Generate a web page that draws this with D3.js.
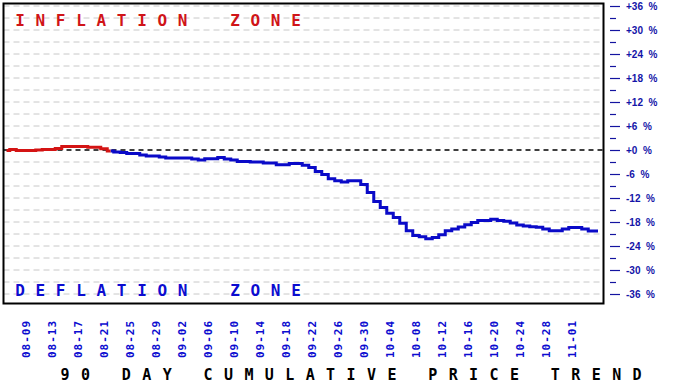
<!DOCTYPE html>
<html><head><meta charset="utf-8">
<script src="https://cdn.jsdelivr.net/npm/d3@7/dist/d3.min.js"></script>
<style>body{margin:0;background:#fff}svg{display:block}</style>
</head><body><svg id="c" width="686" height="386"></svg>
<script>
const dates = [
"08-06","08-07","08-08","08-09","08-10","08-11","08-12","08-13","08-14","08-15",
"08-16","08-17","08-18","08-19","08-20","08-21","08-22","08-23","08-24","08-25",
"08-26","08-27","08-28","08-29","08-30","08-31","09-01","09-02","09-03","09-04",
"09-05","09-06","09-07","09-08","09-09","09-10","09-11","09-12","09-13","09-14",
"09-15","09-16","09-17","09-18","09-19","09-20","09-21","09-22","09-23","09-24",
"09-25","09-26","09-27","09-28","09-29","09-30","10-01","10-02","10-03","10-04",
"10-05","10-06","10-07","10-08","10-09","10-10","10-11","10-12","10-13","10-14",
"10-15","10-16","10-17","10-18","10-19","10-20","10-21","10-22","10-23","10-24",
"10-25","10-26","10-27","10-28","10-29","10-30","10-31","11-01","11-02","11-03",
"11-04","11-05"];
const values = [
-0.1, 0.1, -0.1, -0.1, -0.1, 0.0, 0.1, 0.1, 0.4, 0.9,
0.9, 0.9, 0.9, 0.7, 0.7, 0.3, -0.25, -0.5, -0.6, -0.9,
-0.9, -1.25, -1.5, -1.5, -1.75, -2.0, -2.0, -2.0, -2.0, -2.25,
-2.5, -2.2, -2.2, -1.9, -2.25, -2.5, -2.9, -2.9, -3.0, -3.0,
-3.25, -3.25, -3.7, -3.7, -3.4, -3.4, -3.8, -4.4, -5.4, -6.1,
-7.2, -7.7, -8.0, -7.7, -7.7, -8.6, -10.6, -12.9, -14.4, -15.8,
-16.9, -18.3, -20.2, -21.4, -21.7, -22.2, -21.9, -21.2, -20.2, -19.75,
-19.25, -18.7, -18.1, -17.6, -17.6, -17.3, -17.6, -17.8, -18.25, -18.75,
-19.0, -19.2, -19.3, -19.75, -20.2, -20.2, -19.75, -19.4, -19.4, -19.75,
-20.25, -20.25];
const inflationLastDate = "08-22";
const xTickLabels = ["08-09","08-13","08-17","08-21","08-25","08-29","09-02","09-06","09-10","09-14","09-18","09-22","09-26","09-30","10-04","10-08","10-12","10-16","10-20","10-24","10-28","11-01"];
const yMajorTicks = [36,30,24,18,12,6,0,-6,-12,-18,-24,-30,-36];
const yMinorTicks = [33,27,21,15,9,3,-3,-9,-15,-21,-27,-33];
const gridTicks = [36,33,30,27,24,21,18,15,12,9,6,3,-3,-6,-9,-12,-15,-18,-21,-24,-27,-30,-33,-36];
const titleText = "90 DAY CUMULATIVE PRICE TREND";
const zoneTop = ["INFLATION","ZONE"];
const zoneBottom = ["DEFLATION","ZONE"];

const svg = d3.select("#c");
const frame = {x0: 3.5, x1: 603.5, y0: 3.5, y1: 303.5};
const x = d3.scalePoint().domain(dates).range([6.5, 598]);
const y = d3.scaleLinear().domain([-36, 36]).range([294, 6]);
const mono = "'DejaVu Sans Mono', 'Liberation Mono', monospace";

// grid
svg.append("g").selectAll("line").data(gridTicks).join("line")
  .attr("x1", frame.x0).attr("x2", frame.x1)
  .attr("y1", d => y(d)).attr("y2", d => y(d))
  .attr("stroke", "#c8c8c8").attr("stroke-width", 1).attr("stroke-dasharray", "6,4");
// zero line
svg.append("line").attr("x1", frame.x0).attr("x2", frame.x1)
  .attr("y1", y(0)).attr("y2", y(0))
  .attr("stroke", "#000").attr("stroke-width", 1.3).attr("stroke-dasharray", "5,4");

// zone labels
function zone(words, yy, color) {
  const g = svg.append("g").attr("font-family", mono).attr("font-weight", "bold")
    .attr("font-size", 16).attr("fill", color).attr("letter-spacing", "10.7px");
  g.append("text").attr("x", 15.2).attr("y", yy).text(words[0]);
  g.append("text").attr("x", 230.2).attr("y", yy).text(words[1]);
}
zone(zoneTop, 26, "#d01418");
zone(zoneBottom, 296, "#0c0cd0");

// line
const splitIdx = dates.indexOf(inflationLastDate);
const line = d3.line().x((d, i) => x(d.date)).y(d => y(d.v)).curve(d3.curveStep);
const pts = dates.map((d, i) => ({date: d, v: values[i]}));
svg.append("path").datum(pts.slice(splitIdx)).attr("d", line)
  .attr("fill", "none").attr("stroke", "#0a0ac8").attr("stroke-width", 3);
svg.append("path").datum(pts.slice(0, splitIdx + 1)).attr("d", line)
  .attr("fill", "none").attr("stroke", "#d41414").attr("stroke-width", 3);

// frame
svg.append("rect").attr("x", frame.x0).attr("y", frame.y0)
  .attr("width", frame.x1 - frame.x0).attr("height", frame.y1 - frame.y0)
  .attr("fill", "none").attr("stroke", "#000").attr("stroke-width", 2);

// right axis
const fmt = d => (d >= 0 ? "+" + d : "" + d) + "\u00a0\u00a0%";
const axMinor = d3.axisRight(y).tickValues(yMinorTicks).tickSize(6).tickFormat("");
const axMajor = d3.axisRight(y).tickValues(yMajorTicks).tickSize(10).tickPadding(6).tickFormat(fmt);
const gMin = svg.append("g").attr("transform", "translate(610,0)").call(axMinor);
const gMaj = svg.append("g").attr("transform", "translate(610,0)").call(axMajor);
[gMin, gMaj].forEach(g => {
  g.select(".domain").remove();
  g.selectAll("line").attr("stroke", "#1414a0").attr("stroke-width", 1.2);
});
gMaj.selectAll("text").attr("fill", "#1414a8").attr("font-family", "'Liberation Sans', Arial, sans-serif")
  .attr("font-weight", "bold").attr("font-size", 10);

// x labels
svg.append("g").selectAll("text").data(xTickLabels).join("text")
  .attr("transform", d => `translate(${x(d)},358) rotate(-90)`)
  .attr("dy", "0.35em")
  .attr("font-family", mono).attr("font-weight", "bold").attr("font-size", 11)
  .attr("letter-spacing", "1px").attr("fill", "#0c0cd0")
  .text(d => d);

// title
svg.append("text").attr("x", 60.5).attr("y", 380)
  .attr("font-family", mono).attr("font-weight", "bold").attr("font-size", 15)
  .attr("letter-spacing", "11.4px").attr("fill", "#000")
  .text(titleText);
</script></body></html>
